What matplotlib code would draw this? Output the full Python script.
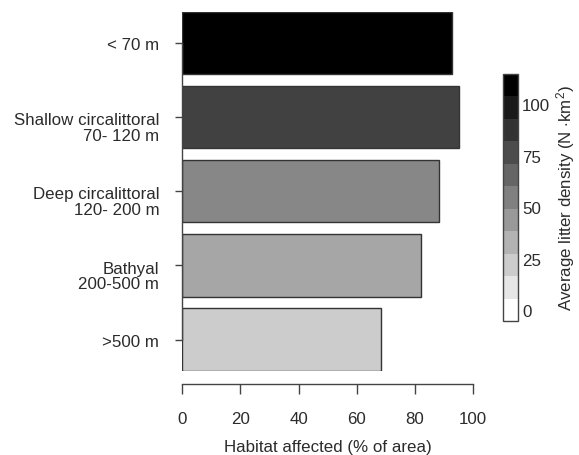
import numpy as np
import matplotlib
matplotlib.use("Agg")
import matplotlib.pyplot as plt
from matplotlib.colors import ListedColormap, BoundaryNorm, Normalize
import matplotlib.colorbar as mcolorbar

plt.rcParams['font.family'] = ['Liberation Sans', 'DejaVu Sans']
plt.rcParams['mathtext.fontset'] = 'custom'
plt.rcParams['mathtext.rm'] = 'Liberation Sans'
plt.rcParams['mathtext.it'] = 'Liberation Sans'

# data (bottom to top)
zone_labels = ["< 70 m", "Shallow circalittoral\n70- 120 m", "Deep circalittoral\n120- 200 m",
               "Bathyal\n200-500 m", ">500 m"][::-1]
affected = [92.7, 95.2, 88.2, 82.0, 68.2][::-1]
density = [114.6, 84, 51, 36.5, 19][::-1]

dens_min, dens_max = -5.3, 114.6
n_levels = 11
cbar_ticks = [0, 25, 50, 75, 100]

txt = '#2b2b2b'
edge = '#333333'
fs = 12.2
W, H = 579, 456

fig = plt.figure(figsize=(W / 100, H / 100), dpi=100)
ax = fig.add_axes([182.3 / W, (H - 371.7) / H, 290.7 / W, (371.7 - 12.7) / H])

norm = Normalize(dens_min, dens_max)
cmap = plt.get_cmap('gray_r')
pos = np.arange(len(zone_labels))
ax.barh(pos, affected, height=0.84, color=cmap(norm(density)),
        edgecolor=edge, linewidth=1.0)

ax.set_xlim(0, 100)
ax.set_ylim(-0.42, len(pos) - 1 + 0.42)

for s in ['top', 'right']:
    ax.spines[s].set_visible(False)
ax.spines['bottom'].set_position(('outward', 9.6))
ax.spines['bottom'].set_bounds(0, 100)
ax.spines['left'].set_bounds(0, len(pos) - 1)
for s in ['bottom', 'left']:
    ax.spines[s].set_color('#444444')
    ax.spines[s].set_linewidth(1.0)

ax.set_xticks([0, 20, 40, 60, 80, 100])
ax.tick_params(axis='x', length=7.2, width=1.0, color='#444444', pad=12,
               labelsize=fs, labelcolor=txt)
ax.set_yticks(pos)
ax.set_yticklabels([])
ax.tick_params(axis='y', length=5, width=1.0, color='#444444')
ax.set_xlabel("Habitat affected (% of area)", fontsize=fs, color=txt, labelpad=9.5)

for p, lab in zip(pos, zone_labels):
    nl = lab.count('\n')
    ax.annotate(lab, xy=(0, p), xycoords=ax.get_yaxis_transform(),
                xytext=(-23, -1.5 - 9 * nl), textcoords='offset pixels',
                ha='right', va='center', fontsize=fs, color=txt,
                multialignment='right', linespacing=1.05)

# colorbar
cax = fig.add_axes([503 / W, (H - 322) / H, 15 / W, (322 - 75) / H])
bounds = np.linspace(dens_min, dens_max, n_levels + 1)
greys = [str(g) for g in np.linspace(1, 0, n_levels)]
cb = mcolorbar.ColorbarBase(cax, cmap=ListedColormap(greys),
                            norm=BoundaryNorm(bounds, n_levels),
                            boundaries=bounds, ticks=cbar_ticks)
cb.outline.set_edgecolor('#444444')
cb.outline.set_linewidth(1.0)
cax.minorticks_off()
cax.tick_params(which='both', length=0, pad=3, labelsize=fs, labelcolor=txt)
cax.set_yticklabels([str(t) for t in cbar_ticks])
cb.set_label(r"Average litter density (N $\cdot$km$^{2}$)", fontsize=fs,
             color=txt, labelpad=3)

fig.savefig("out.png", dpi=100)
